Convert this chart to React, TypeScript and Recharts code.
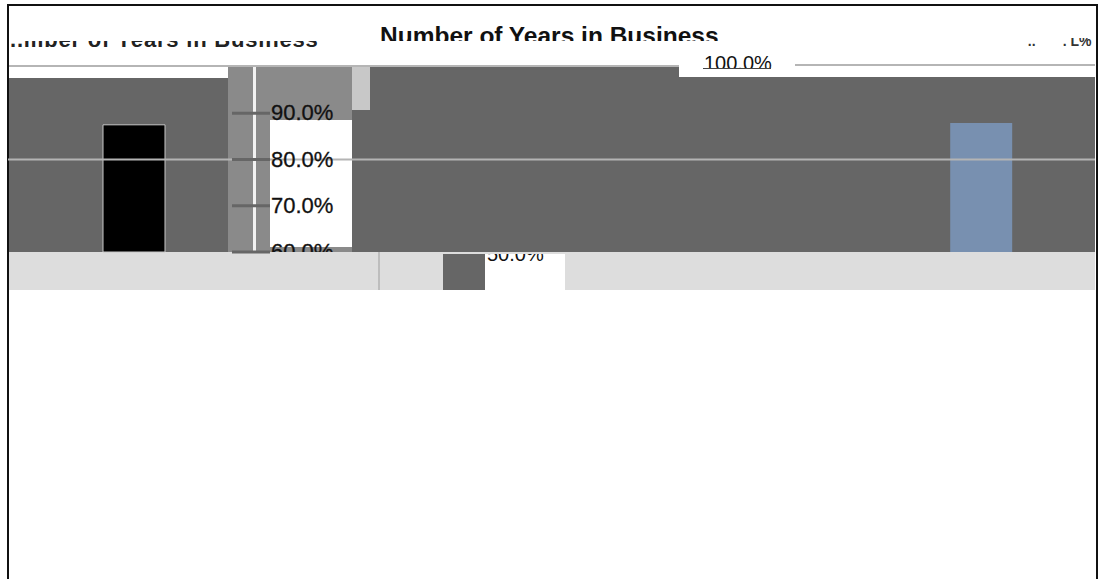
import { BarChart, Bar, XAxis, YAxis, Cell, ReferenceLine } from "recharts";

const categories = [
  "Less than 1 year",
  "1 to 3 years",
  "3 to 5 years",
  "5 to 10 years",
  "More than 10 years",
];
const shares: (number | null)[] = [87.5, null, null, null, 87.9];
const barColors = ["#000000", "#7890b0", "#7890b0", "#7890b0", "#7890b0"];
const barOutlines = ["#c8c8c8", "none", "none", "none", "none"];
const tickValues = [60, 70, 80, 90, 100];
const gridValue = 80;

const rows = categories.map((name, i) => ({ name, share: shares[i] }));

const FONT = "'Liberation Sans', Arial, sans-serif";
const PLOT_BOTTOM = 252;

// decoration blocks behind the svg
const blocks: [number, number, number, number, string][] = [
  [9, 78, 220, 174, "#666666"],
  [228, 67, 124, 185, "#8a8a8a"],
  [253, 67, 3, 185, "#f2f2f2"],
  [270, 120, 82, 127, "#ffffff"],
  [370, 67, 309, 11, "#666666"],
  [352, 77, 743, 175, "#666666"],
  [352, 67, 18, 43, "#c8c8c8"],
  [9, 65, 670, 2, "#b5b5b5"],
  [795, 64, 300, 2, "#b5b5b5"],
  [703, 68, 68, 1, "#444444"],
  [9, 252, 1086, 38, "#dddddd"],
  [378, 252, 2, 38, "#bdbdbd"],
  [443, 254, 42, 36, "#666666"],
  [485, 254, 80, 36, "#ffffff"],
];

function PercentTick(props: any) {
  const { y, payload } = props;
  const v = Number(payload.value);
  const id = `tclip-${v}`;
  if (v === 100) {
    return (
      <g>
        <defs>
          <clipPath id={id}>
            <rect x={0} y={0} width={1098} height={y + 1} />
          </clipPath>
        </defs>
        <text
          x={704}
          y={y + 3}
          fontSize={20}
          fill="#111"
          fontFamily={FONT}
          clipPath={`url(#${id})`}
        >
          100.0%
        </text>
      </g>
    );
  }
  return (
    <g>
      <defs>
        <clipPath id={id}>
          <rect x={0} y={0} width={1098} height={PLOT_BOTTOM} />
        </clipPath>
      </defs>
      <line x1={232} x2={270} y1={y} y2={y} stroke="#666" strokeWidth={3} />
      <text
        x={271}
        y={y + 7}
        fontSize={22}
        fill="#111"
        fontFamily={FONT}
        stroke="#111"
        strokeWidth={0.3}
        clipPath={`url(#${id})`}
      >
        {v.toFixed(1)}%
      </text>
    </g>
  );
}

export default function App() {
  return (
    <div
      style={{
        position: "absolute",
        left: 0,
        top: 0,
        width: 1098,
        height: 579,
        background: "#fff",
        overflow: "hidden",
        fontFamily: FONT,
      }}
    >
      <div
        style={{
          position: "absolute",
          left: 7,
          top: 4,
          width: 1091,
          height: 620,
          boxSizing: "border-box",
          border: "2px solid #111",
        }}
      />
      {blocks.map(([l, t, w, h, c], i) => (
        <div
          key={i}
          style={{ position: "absolute", left: l, top: t, width: w, height: h, background: c }}
        />
      ))}
      <div
        style={{
          position: "absolute",
          left: 487,
          top: 254,
          width: 76,
          height: 8,
          overflow: "hidden",
        }}
      >
        <div style={{ marginTop: -10, fontSize: 20, lineHeight: "20px", color: "#111" }}>50.0%</div>
      </div>
      {/* title, cut at the bottom */}
      <div
        style={{
          position: "absolute",
          left: 380,
          top: 20,
          width: 360,
          height: 21,
          overflow: "hidden",
        }}
      >
        <div
          style={{
            marginTop: 4,
            fontSize: 24.5,
            lineHeight: "24px",
            fontWeight: 700,
            color: "#111",
            whiteSpace: "nowrap",
          }}
        >
          Number of Years in Business
        </div>
      </div>
      {/* sliced copy of the title on the left */}
      <div
        style={{
          position: "absolute",
          left: 10,
          top: 41,
          width: 312,
          height: 8,
          overflow: "hidden",
        }}
      >
        <div
          style={{
            marginTop: -12,
            fontSize: 22,
            lineHeight: "22px",
            fontWeight: 700,
            color: "#222",
            whiteSpace: "nowrap",
            letterSpacing: 0.8,
          }}
        >
          ..mber of Years in Business
        </div>
      </div>
      <div
        style={{
          position: "absolute",
          left: 1020,
          top: 38,
          width: 74,
          height: 8,
          overflow: "hidden",
          fontSize: 14,
          lineHeight: "14px",
          color: "#333",
          fontWeight: 700,
          whiteSpace: "nowrap",
        }}
      >
        <div style={{ marginTop: -4 }}>{"\u00a0\u00a0..\u00a0\u00a0\u00a0\u00a0\u00a0\u00a0\u00a0. L%"}</div>
      </div>
      <div style={{ position: "absolute", left: 0, top: 0 }}>
        <BarChart
          width={1098}
          height={579}
          data={rows}
          margin={{ top: 67, right: 3, bottom: 579 - PLOT_BOTTOM, left: 8 }}
        >
          <XAxis dataKey="name" hide padding={{ left: 20, right: 8 }} />
          <YAxis
            type="number"
            domain={[60, 100]}
            ticks={tickValues}
            interval={0}
            mirror
            width={40}
            axisLine={false}
            tickLine={false}
            tick={(p: any) => <PercentTick {...p} />}
          />
          <ReferenceLine y={gridValue} stroke="#b4b4b4" strokeWidth={2} />
          <Bar dataKey="share" barSize={62} isAnimationActive={false}>
            {rows.map((r, i) => (
              <Cell key={r.name} fill={barColors[i]} stroke={barOutlines[i]} strokeWidth={1} />
            ))}
          </Bar>
        </BarChart>
      </div>
    </div>
  );
}
